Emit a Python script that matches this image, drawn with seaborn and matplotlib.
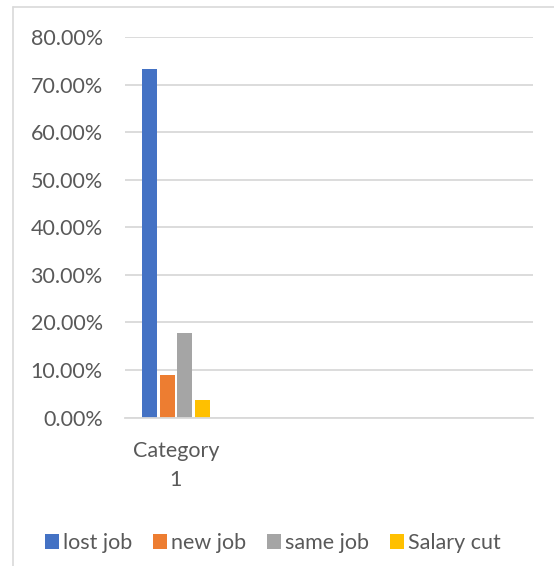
import matplotlib
matplotlib.use("Agg")
import matplotlib.pyplot as plt
import seaborn as sns
import pandas as pd
from matplotlib.ticker import FuncFormatter, MultipleLocator
from matplotlib.lines import Line2D

categories = ["Category\n1"]
series = ["lost job", "new job", "same job", "Salary cut"]
values = [0.732, 0.089, 0.177, 0.036]
colors = ["#4472C4", "#ED7D31", "#A5A5A5", "#FFC000"]

df = pd.DataFrame({
    "category": [categories[0]] * len(series),
    "series": series,
    "value": values,
})

sns.set_theme(style="white")
plt.rcParams["font.family"] = ["Lato", "DejaVu Sans"]

W, H = 554, 566
fig = plt.figure(figsize=(W / 100, H / 100), dpi=100)
ax = fig.add_axes([125 / W, 1 - 417.5 / H, (532.7 - 125) / W, (417.5 - 37) / H])

sns.barplot(data=df, x="category", y="value", hue="series", hue_order=series,
            palette=colors, width=0.69, gap=0.15, ax=ax, legend=True,
            saturation=1, linewidth=0)

ax.set_xlim(-0.5, 3.5)
ax.set_ylim(0, 0.8)
ax.yaxis.set_major_locator(MultipleLocator(0.1))
ax.yaxis.set_major_formatter(FuncFormatter(lambda v, p: f"{v*100:.2f}%"))
ax.grid(axis="y", color="#D9D9D9", linewidth=1.3)
ax.set_axisbelow(True)
for s in ["top", "right", "left"]:
    ax.spines[s].set_visible(False)
ax.spines["bottom"].set_color("#D9D9D9")
ax.spines["bottom"].set_linewidth(1.3)
ax.set_xlabel("")
ax.set_ylabel("")
ax.tick_params(axis="y", length=0, pad=16, labelsize=15.5, labelcolor="#595959")
ax.tick_params(axis="x", length=0, pad=17, labelsize=15.5, labelcolor="#595959")
for t in ax.get_xticklabels():
    t.set_linespacing(1.55)

handles, labels = ax.get_legend_handles_labels()
ax.legend_.remove()
leg = fig.legend(handles, labels, loc="center", bbox_to_anchor=(273 / W, 1 - 543 / H),
                 ncol=4, frameon=False, fontsize=15.5, handlelength=0.65, handleheight=0.65,
                 handletextpad=0.2, columnspacing=0.95, labelcolor="#595959")

# chart border (top and left edges visible)
fig.add_artist(Line2D([13 / W, 13 / W], [0, 1 - 7 / H], transform=fig.transFigure,
                      color="#D9D9D9", linewidth=1.2))
fig.add_artist(Line2D([13 / W, 1], [1 - 7 / H, 1 - 7 / H], transform=fig.transFigure,
                      color="#D9D9D9", linewidth=1.2))

fig.savefig("out.png", dpi=100)
